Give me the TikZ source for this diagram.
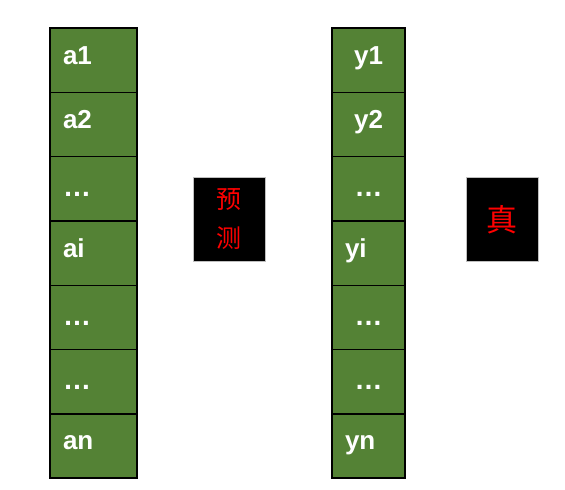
\documentclass[tikz,border=0pt]{standalone}
\usepackage{fontspec}
\setmainfont{Liberation Sans}
\newfontfamily\cjk{Noto Sans CJK SC}
\usetikzlibrary{positioning}
\definecolor{cellgreen}{RGB}{84,130,53}
\definecolor{labelred}{RGB}{255,0,0}
\newcommand\celldots{\raisebox{-4pt}{\fontsize{28}{30}\selectfont …}}

\begin{document}
\begin{tikzpicture}[x=1pt,y=-1pt,
  cell/.style={draw=black, line width=1.4pt, fill=cellgreen, outer sep=0pt, inner sep=0pt,
    minimum height=64.3pt, text height=14pt, text depth=6pt, text=white,
    font=\fontsize{26}{30}\selectfont\bfseries},
  acell/.style={cell, minimum width=87pt, text width=61pt, align=left},
  ycell/.style={cell, minimum width=73pt, text width=47pt, align=left},
  ymid/.style={ycell, align=center},
  tag/.style={fill=black, draw=gray!50, line width=0.6pt, minimum width=72pt, minimum height=84pt,
    inner sep=0pt, text=labelred, align=center}]
\useasboundingbox (0,0) rectangle (565,490);

%predicted values
\node (a1) [acell] at (93.5,60.15) {a1};
\node (a2) [acell, below=0pt of a1] {a2};
\node (a3) [acell, below=0pt of a2] {\celldots};
\node (ai) [acell, below=0pt of a3] {ai};
\node (a5) [acell, below=0pt of ai] {\celldots};
\node (a6) [acell, below=0pt of a5] {\celldots};
\node (an) [acell, below=0pt of a6] {an};

%true values
\node (y1) [ymid] at (368.5,60.15) {y1};
\node (y2) [ymid, below=0pt of y1] {y2};
\node (y3) [ymid, below=0pt of y2] {\celldots};
\node (yi) [ycell, below=0pt of y3] {yi};
\node (y5) [ymid, below=0pt of yi] {\celldots};
\node (y6) [ymid, below=0pt of y5] {\celldots};
\node (yn) [ycell, below=0pt of y6] {yn};

\node (pred) [tag, font=\cjk\fontsize{25}{39}\selectfont] at (229,219) {预\\测};
\node (truth) [tag, font=\cjk\fontsize{31}{36}\selectfont] at (502,219.5) {真};

\end{tikzpicture}
\end{document}
